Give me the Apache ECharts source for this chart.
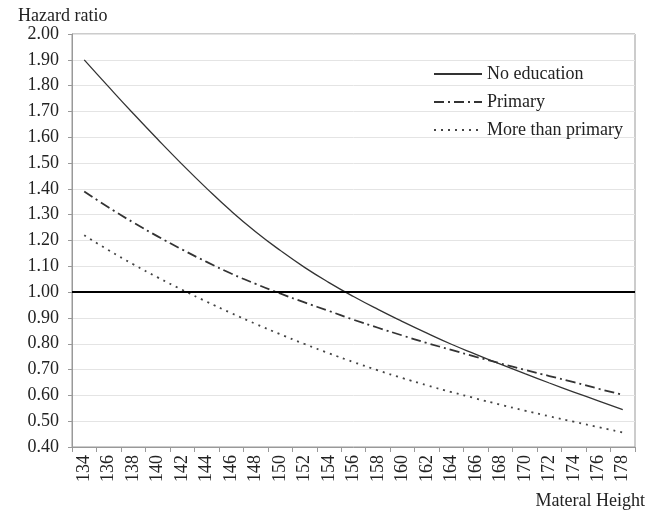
<!DOCTYPE html>
<html>
<head>
<meta charset="utf-8">
<script src="https://cdn.jsdelivr.net/npm/echarts@6/dist/echarts.min.js"></script>
<style>
  html, body { margin: 0; padding: 0; background: #fff; }
  #chart { width: 655px; height: 510px; }
</style>
</head>
<body>
<div id="chart"></div>
<script>
  // maternal height categories (cm)
  const heights = ['134', '136', '138', '140', '142', '144', '146', '148', '150', '152', '154', '156',
    '158', '160', '162', '164', '166', '168', '170', '172', '174', '176', '178'];

  // hazard ratios
  const noEducation = [1.90, 1.795, 1.692, 1.592, 1.495, 1.402, 1.314, 1.234, 1.162, 1.096, 1.037, 0.983,
    0.933, 0.886, 0.841, 0.798, 0.759, 0.721, 0.684, 0.648, 0.613, 0.579, 0.545];
  const primary = [1.39, 1.328, 1.270, 1.216, 1.165, 1.117, 1.072, 1.032, 0.995, 0.960, 0.927, 0.893,
    0.862, 0.832, 0.803, 0.776, 0.749, 0.724, 0.699, 0.675, 0.651, 0.626, 0.602];
  const morePrimary = [1.22, 1.162, 1.108, 1.057, 1.009, 0.963, 0.919, 0.877, 0.837, 0.799, 0.763, 0.729,
    0.697, 0.667, 0.639, 0.613, 0.588, 0.564, 0.541, 0.519, 0.498, 0.477, 0.456];

  const refLine = 1.0;

  const font = 'Liberation Serif';
  const ink = '#222';

  const chart = echarts.init(document.getElementById('chart'));

  const option = {
    animation: false,
    backgroundColor: '#fff',
    textStyle: { fontFamily: font, color: ink },
    title: {
      text: 'Hazard ratio',
      left: 13,
      top: 2,
      textStyle: { fontFamily: font, fontSize: 18, fontWeight: 'normal', color: ink },
    },
    grid: {
      left: 72,
      right: 20,
      top: 34,
      bottom: 63,
      show: true,
      borderColor: '#999',
      borderWidth: 1,
    },
    legend: {
      orient: 'vertical',
      left: 428,
      top: 60,
      itemWidth: 48,
      itemHeight: 14,
      itemGap: 10,
      itemStyle: { opacity: 0 },
      textStyle: { fontFamily: font, fontSize: 18, color: ink },
      data: ['No education', 'Primary', 'More than primary'],
    },
    xAxis: {
      type: 'category',
      data: heights,
      boundaryGap: true,
      name: 'Materal Height',
      nameLocation: 'end',
      nameGap: 10,
      nameTextStyle: {
        fontFamily: font, fontSize: 18, color: ink,
        align: 'right', verticalAlign: 'top', padding: [45, 0, 0, 0],
      },
      axisLine: { lineStyle: { color: '#999', width: 1 } },
      axisTick: { show: true, length: 5, lineStyle: { color: '#999' } },
      axisLabel: { rotate: 90, fontSize: 18, color: ink, margin: 8, interval: 0 },
      splitLine: { show: false },
    },
    yAxis: {
      type: 'value',
      min: 0.4,
      max: 2.0,
      interval: 0.1,
      axisLine: { show: true, lineStyle: { color: '#999', width: 1 } },
      axisTick: { show: true, length: 4, lineStyle: { color: '#999' } },
      axisLabel: { fontSize: 18, color: ink, margin: 13, formatter: v => v.toFixed(2) },
      splitLine: { show: true, lineStyle: { color: '#e4e4e4', width: 1 } },
    },
    series: [
      {
        name: 'No education',
        type: 'line',
        data: noEducation,
        symbol: 'none',
        smooth: true,
        lineStyle: { color: '#333', width: 1.3, type: 'solid' },
        itemStyle: { color: '#333' },
        markLine: {
          silent: true,
          symbol: 'none',
          label: { show: false },
          lineStyle: { color: '#000', width: 2.2, type: 'solid' },
          data: [{ yAxis: refLine }],
        },
      },
      {
        name: 'Primary',
        type: 'line',
        data: primary,
        symbol: 'none',
        smooth: true,
        lineStyle: { color: '#333', width: 1.8, type: [10, 4, 2, 4] },
        itemStyle: { color: '#333' },
      },
      {
        name: 'More than primary',
        type: 'line',
        data: morePrimary,
        symbol: 'none',
        smooth: true,
        lineStyle: { color: '#444', width: 1.8, type: [2, 5] },
        itemStyle: { color: '#444' },
      },
    ],
  };

  chart.setOption(option);
</script>
</body>
</html>
